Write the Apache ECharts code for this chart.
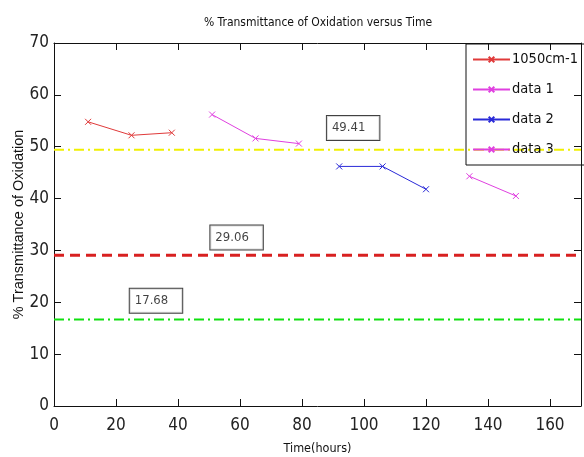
<!DOCTYPE html>
<html><head><meta charset="utf-8">
<script src="https://cdn.jsdelivr.net/npm/echarts@6/dist/echarts.min.js"></script>
<style>html,body{margin:0;padding:0;background:#fff}#c{width:584px;height:457px}</style>
</head><body><div id="c"></div>
<script>
var xTicks = [0, 20, 40, 60, 80, 100, 120, 140, 160];
var yTicks = [0, 10, 20, 30, 40, 50, 60, 70];
var seriesNames = ['1050cm-1', 'data 1', 'data 2', 'data 3'];
var s1050 = [[11, 54.8], [25, 52.2], [38, 52.7]];
var data1 = [[51, 56.2], [65, 51.6], [79, 50.6]];
var data2 = [[92, 46.2], [106, 46.2], [120, 41.8]];
var data3 = [[134, 44.3], [149, 40.5]];
var refLevels = [49.41, 29.06, 16.7];
var annotTexts = ['49.41', '29.06', '17.68'];
var annotPos = [[96.5, 53.6], [58.9, 32.5], [32.9, 20.3]];

var NARROW = '"DejaVu Sans Condensed", "Liberation Sans Narrow", "Liberation Sans", Arial, sans-serif';
var xPath = 'path://M0,0L10,10M10,0L0,10';
var seriesColors = ['#e03a3a', '#e040e0', '#2a2ad8', '#e040e0'];
var seriesData = [s1050, data1, data2, data3];
var refColors = ['#f0f000', '#d82020', '#10e010'];
var refTypes = [[10, 4, 2, 4], [10, 6], [10, 4, 2, 4]];
var refWidths = [2, 3, 2];

var chart = echarts.init(document.getElementById('c'), null, {renderer: 'canvas'});
var series = [];
for (var i = 0; i < refLevels.length; i++) {
  series.push({
    name: 'ref' + i, type: 'line', data: [[0, refLevels[i]], [170, refLevels[i]]],
    symbol: 'none', silent: true, animation: false, z: 3,
    lineStyle: {color: refColors[i], width: refWidths[i], type: refTypes[i]}
  });
}
for (var j = 0; j < seriesNames.length; j++) {
  series.push({
    name: seriesNames[j], type: 'line', data: seriesData[j], animation: false, z: 4,
    symbol: xPath, symbolSize: 6, showSymbol: true,
    color: seriesColors[j],
    lineStyle: {color: seriesColors[j], width: 1},
    itemStyle: {color: seriesColors[j], borderColor: seriesColors[j], borderWidth: 1}
  });
}
series.push({
  name: 'annot', type: 'scatter', symbolSize: 0, animation: false, z: 5,
  data: annotPos.map(function (p, k) { return {value: p, name: annotTexts[k]}; }),
  label: {
    show: true, position: 'inside', formatter: '{b}',
    fontFamily: NARROW, fontSize: 13, color: '#111',
    backgroundColor: '#fff', borderColor: '#111', borderWidth: 1,
    padding: [6, 14, 5, 5]
  }
});

chart.setOption({
  backgroundColor: '#fff',
  animation: false,
  title: {
    text: '% Transmittance of Oxidation versus Time', left: 313, top: 12, textAlign: 'center',
    textStyle: {fontFamily: NARROW, fontSize: 12, fontWeight: 'normal', color: '#111'}
  },
  legend: {
    data: seriesNames, orient: 'vertical', left: 466, top: 44,
    padding: [8, 30, 8, 6], itemGap: 15, itemWidth: 37, itemHeight: 7,
    borderColor: '#111', borderWidth: 1, backgroundColor: 'transparent',
    textStyle: {fontFamily: NARROW, fontSize: 14.5, color: '#111', padding: [0, 0, 0, -3]}
  },
  grid: {left: 54, right: 3, top: 43, bottom: 51, containLabel: false, outerBoundsMode: 'none'},
  xAxis: [{
    type: 'value', min: 0, max: 170, interval: 20,
    name: 'Time(hours)', nameLocation: 'middle', nameGap: 36, nameMoveOverlap: false,
    nameTextStyle: {fontFamily: NARROW, fontSize: 12.5, color: '#111'},
    axisLine: {show: true, onZero: false, lineStyle: {color: '#111', width: 1}},
    axisTick: {show: true, inside: true, length: 7, lineStyle: {color: '#111'}},
    axisLabel: {fontFamily: NARROW, fontSize: 17, color: '#222', margin: 11,
      formatter: function (v) { return xTicks.indexOf(v) >= 0 ? String(v) : ''; }},
    splitLine: {show: false}
  }, {
    type: 'value', position: 'top', min: 0, max: 170, interval: 20,
    axisLine: {show: true, onZero: false, lineStyle: {color: '#111', width: 1}},
    axisTick: {show: true, inside: true, length: 7, lineStyle: {color: '#111'}},
    axisLabel: {show: false}, splitLine: {show: false}
  }],
  yAxis: [{
    type: 'value', min: 0, max: 70, interval: 10,
    name: '% Transmittance of Oxidation', nameLocation: 'middle', nameGap: 28, nameMoveOverlap: false,
    nameTextStyle: {fontFamily: '"Liberation Sans", Arial, sans-serif', fontSize: 14.5, color: '#111'},
    axisLine: {show: true, onZero: false, lineStyle: {color: '#111', width: 1}},
    axisTick: {show: true, inside: true, length: 7, lineStyle: {color: '#111'}},
    axisLabel: {fontFamily: NARROW, fontSize: 17, color: '#222', margin: 5,
      formatter: function (v) { return yTicks.indexOf(v) >= 0 ? String(v) : ''; }},
    splitLine: {show: false}
  }, {
    type: 'value', position: 'right', min: 0, max: 70, interval: 10,
    axisLine: {show: true, onZero: false, lineStyle: {color: '#111', width: 1}},
    axisTick: {show: true, inside: true, length: 7, lineStyle: {color: '#111'}},
    axisLabel: {show: false}, splitLine: {show: false}
  }],
  series: series
});
</script></body></html>
